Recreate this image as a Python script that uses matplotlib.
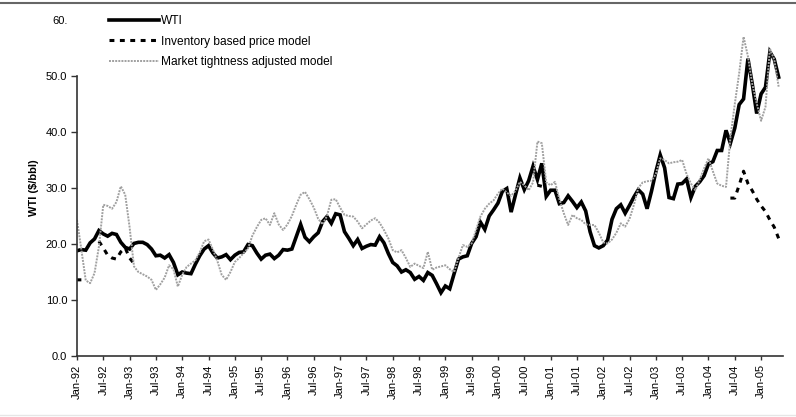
import matplotlib
matplotlib.use("Agg")
import matplotlib.pyplot as plt
from matplotlib.lines import Line2D
import numpy as np
import pandas as pd

plt.rcParams['font.family'] = ['Liberation Sans', 'DejaVu Sans']

# monthly data, Jan-92 .. May-05
wti = [18.8, 19.0, 18.9, 20.2, 20.9, 22.4, 21.8, 21.4, 21.9, 21.7, 20.3, 19.4,
       19.1, 20.1, 20.3, 20.3, 19.9, 19.1, 17.9, 18.0, 17.5, 18.1, 16.7, 14.5,
       15.0, 14.8, 14.7, 16.4, 17.9, 19.1, 19.7, 18.4, 17.5, 17.7, 18.1, 17.2,
       18.0, 18.5, 18.6, 19.9, 19.7, 18.4, 17.3, 18.0, 18.2, 17.4, 18.0, 19.0,
       18.9, 19.1, 21.3, 23.5, 21.2, 20.4, 21.3, 22.0, 24.0, 24.9, 23.7, 25.4,
       25.2, 22.2, 21.0, 19.7, 20.8, 19.2, 19.6, 19.9, 19.8, 21.3, 20.2, 18.3,
       16.7, 16.1, 15.0, 15.4, 14.9, 13.7, 14.2, 13.5, 14.9, 14.4, 12.9, 11.3,
       12.5, 12.0, 14.7, 17.3, 17.7, 17.9, 20.1, 21.3, 23.9, 22.6, 25.0, 26.1,
       27.3, 29.4, 29.9, 25.7, 28.8, 31.8, 29.7, 31.3, 33.9, 31.5, 34.4, 28.5,
       29.6, 29.6, 27.2, 27.4, 28.6, 27.6, 26.5, 27.5, 25.9, 22.2, 19.7, 19.3,
       19.7, 20.7, 24.4, 26.3, 27.0, 25.5, 26.9, 28.4, 29.7, 28.9, 26.3, 29.4,
       32.9, 35.9, 33.6, 28.3, 28.1, 30.7, 30.8, 31.6, 28.3, 30.3, 31.1, 32.2,
       34.3, 34.7, 36.7, 36.7, 40.3, 38.0, 40.7, 44.9, 45.9, 53.1, 48.5, 43.3,
       46.8, 48.0, 54.3, 53.0, 49.8]

tightness = [24.3, 19.0, 13.5, 13.0, 14.8, 19.5, 27.0, 26.8, 26.3, 27.5, 30.3, 28.8,
             23.0, 16.0, 15.0, 14.6, 14.2, 13.6, 11.8, 12.8, 14.0, 16.2, 15.5, 12.4,
             14.5, 15.9, 16.5, 17.1, 18.5, 20.5, 20.8, 19.0, 17.0, 14.5, 13.6, 15.0,
             16.8, 17.5, 18.4, 19.2, 21.5, 23.0, 24.3, 24.6, 23.4, 25.5, 23.5, 22.5,
             23.5, 25.0, 27.0, 28.8, 29.3, 28.0, 26.5, 24.5, 23.5, 25.0, 27.9, 28.0,
             26.5, 25.2, 25.0, 24.9, 24.0, 22.8, 23.5, 24.2, 24.6, 23.8, 22.5, 21.0,
             18.9, 18.5, 18.9, 17.5, 15.9, 16.5, 16.1, 15.7, 18.6, 15.4, 15.8, 16.0,
             16.2, 15.5, 15.0, 17.5, 19.8, 19.5, 20.1, 22.5, 24.9, 26.3, 27.2, 27.8,
             29.0, 29.9, 29.2, 28.6, 29.5, 31.1, 30.5, 29.6, 31.0, 38.3, 38.0, 31.0,
             30.5, 31.1, 28.0, 25.5, 23.4, 25.2, 24.6, 24.3, 23.5, 23.4, 23.4, 22.0,
             20.3, 20.1, 20.8, 22.0, 23.7, 23.1, 24.5, 27.0, 30.0, 31.0, 31.2, 31.3,
             32.5, 35.3, 35.0, 34.4, 34.6, 34.7, 35.0, 32.5, 30.8, 29.6, 31.5, 33.5,
             35.3, 33.0, 30.8, 30.4, 30.2, 39.0, 45.0, 50.5, 57.0, 53.5, 48.5, 45.1,
             42.0, 44.5, 54.9, 52.9, 48.1]

# inventory model only visible where it departs from the other lines
na = np.nan
inventory = ([13.6, 13.6] + [na] * 3 +
             [20.5, 19.3, 18.0, 17.5, 17.3, 18.6, 19.3, 17.5, 16.5] + [na] * 91 +
             [30.5, 30.3] + [na] * 42 +
             [28.2, 28.2, 30.5, 33.0, 30.8, 29.5, 28.0, 26.8, 25.8, 24.3, 23.0, 21.0])

months = pd.date_range('1992-01-01', periods=len(wti), freq='MS')
x = np.arange(len(wti))

fig = plt.figure(figsize=(7.96, 4.17), dpi=100)
ax = fig.add_axes([0.0967, 0.1463, 0.887, 0.8057])

ax.plot(x, wti, color='black', lw=2.6, solid_joinstyle='miter', label='WTI')
ax.plot(x, inventory, color='black', lw=2.2, linestyle=(0, (1.6, 1.8)),
        label='Inventory based price model')
ax.plot(x, tightness, color='#a0a0a0', lw=1.4, linestyle=(0, (1, 0.6)),
        label='Market tightness adjusted model')

ax.set_xlim(0, 161)
ax.set_ylim(0, 60)

tick_pos = x[::6][:27]
ax.set_xticks(tick_pos)
ax.set_xticklabels([d.strftime('%b-%y') for d in months[tick_pos]], rotation=90, fontsize=8)
ax.set_yticks([0, 10, 20, 30, 40, 50, 60])
ax.set_yticklabels(['0.0', '10.0', '20.0', '30.0', '40.0', '50.0', '60.'], fontsize=8)
ax.yaxis.get_major_ticks()[-1].tick1line.set_visible(False)
ax.tick_params(axis='x', length=3, width=1, color='#333333', pad=3)
ax.tick_params(axis='y', length=4, width=1, color='#333333', pad=3)

for s in ['top', 'right']:
    ax.spines[s].set_visible(False)
ax.spines['left'].set_bounds(0, 50)
ax.spines['left'].set_color('#333333')
ax.spines['bottom'].set_color('#333333')
ax.spines['left'].set_linewidth(1.2)
ax.spines['bottom'].set_linewidth(1.2)

ax.set_ylabel('WTI ($/bbl)', fontsize=8, fontweight='bold', labelpad=5)

fig.legend(loc='upper left', bbox_to_anchor=(109 / 796, 1 - 15 / 417), frameon=False,
           fontsize=8.6, handlelength=4.2, handletextpad=0.15, labelspacing=0.72,
           borderpad=0, borderaxespad=0)

fig.add_artist(Line2D([0, 1], [0.993, 0.993], color='#666666', lw=1.5))
fig.add_artist(Line2D([0, 1], [0.004, 0.004], color='#e6e6e6', lw=1.0))

fig.savefig('out.png', dpi=100)
